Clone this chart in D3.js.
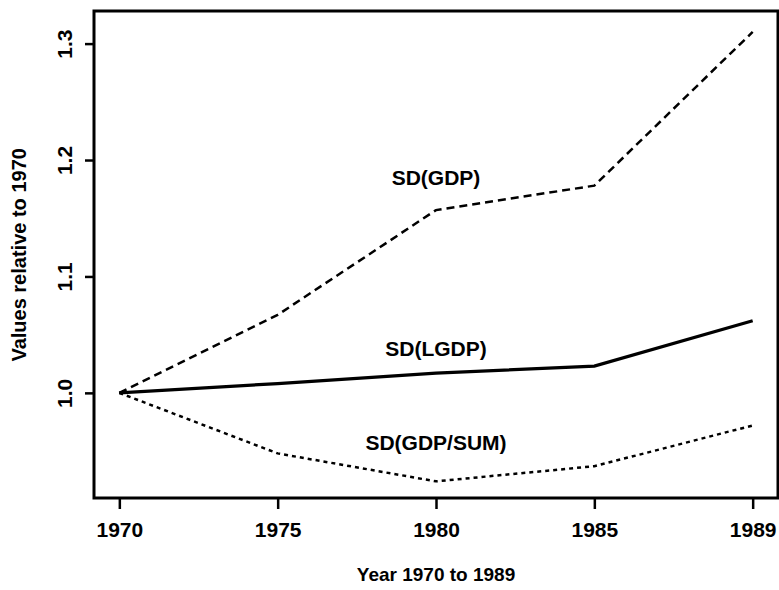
<!DOCTYPE html>
<html>
<head>
<meta charset="utf-8">
<script src="https://cdn.jsdelivr.net/npm/d3@7"></script>
<style>
  body { margin: 0; background: #fff; }
  text { font-family: "Liberation Sans", Arial, sans-serif; font-weight: bold; fill: #000; }
</style>
</head>
<body>
<svg class="chart"></svg>
<script>
const years = ['1970', '1975', '1980', '1985', '1989']
const sdGdp = [1.0, 1.067, 1.157, 1.178, 1.31]
const sdLgdp = [1.0, 1.008, 1.017, 1.023, 1.062]
const sdGdpSum = [1.0, 0.948, 0.924, 0.937, 0.972]
const yTicks = [1.0, 1.1, 1.2, 1.3]

const series = [
  { name: 'SD(GDP)', values: sdGdp, dash: '8,5', width: 2.5, label: 1.185 },
  { name: 'SD(LGDP)', values: sdLgdp, dash: null, width: 3.2, label: 1.038 },
  { name: 'SD(GDP/SUM)', values: sdGdpSum, dash: '4,4', width: 2.5, label: 0.957 },
]

const margin = { top: 11, right: 1, bottom: 92, left: 94 }
const width = 779 - margin.left - margin.right,
      height = 590 - margin.top - margin.bottom

const x = d3.scalePoint()
  .domain(years)
  .range([0, width])
  .padding(0.16)

const y = d3.scaleLinear()
  .domain([0.9097, 1.328])
  .range([height, 0])

const svg = d3.select('.chart')
  .attr('width', 779)
  .attr('height', 590)

const chart = svg.append('g')
  .attr('transform', `translate(${margin.left}, ${margin.top})`)

const line = d3.line()
  .x((d, i) => x(years[i]))
  .y(d => y(d))

series.forEach(s => {
  chart.append('path')
    .attr('d', line(s.values))
    .attr('fill', 'none')
    .attr('stroke', '#000')
    .attr('stroke-width', s.width)
    .attr('stroke-dasharray', s.dash)

  chart.append('text')
    .attr('x', x('1980'))
    .attr('y', y(s.label))
    .attr('dy', '0.36em')
    .attr('text-anchor', 'middle')
    .style('font-size', '21px')
    .text(s.name)
})

const xAxis = d3.axisBottom(x).tickSize(11).tickSizeOuter(0)
const yAxis = d3.axisLeft(y).tickValues(yTicks).tickFormat(d3.format('.1f')).tickSize(9).tickSizeOuter(0)

const gx = chart.append('g')
  .attr('transform', `translate(0, ${height})`)
  .call(xAxis)
gx.select('.domain').remove()
gx.selectAll('line').attr('stroke-width', 2.5)
gx.selectAll('text')
  .attr('y', 24)
  .attr('dy', '0.71em')
  .style('font-size', '21px')
  .style('font-family', null)

const gy = chart.append('g').call(yAxis)
gy.select('.domain').remove()
gy.selectAll('line').attr('stroke-width', 2.5)
gy.selectAll('text')
  .attr('transform', 'rotate(-90)')
  .attr('x', 0)
  .attr('y', -22)
  .attr('dy', 0)
  .attr('text-anchor', 'middle')
  .style('font-size', '21px')
  .style('font-family', null)

// frame
chart.append('rect')
  .attr('width', width)
  .attr('height', height)
  .attr('fill', 'none')
  .attr('stroke', '#000')
  .attr('stroke-width', 3)

chart.append('text')
  .attr('x', width / 2)
  .attr('y', height + 83)
  .attr('text-anchor', 'middle')
  .style('font-size', '19px')
  .text('Year 1970 to 1989')

chart.append('text')
  .attr('transform', 'rotate(-90)')
  .attr('x', -(y(1.0) - 138))
  .attr('y', -68)
  .attr('text-anchor', 'middle')
  .style('font-size', '20px')
  .text('Values relative to 1970')
</script>
</body>
</html>
